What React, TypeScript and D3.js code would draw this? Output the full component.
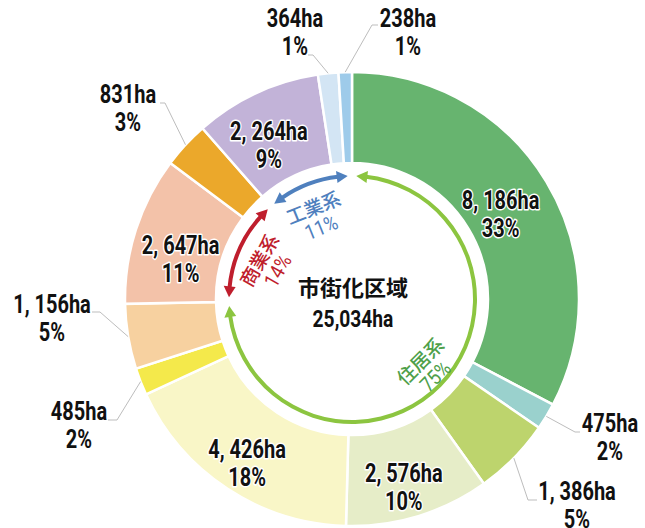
import React from 'react';
import * as d3 from 'd3';

// 市街化区域の用途地域別面積 (ha)
const areaHa = [8186, 475, 1386, 2576, 4426, 485, 1156, 2647, 831, 2264, 364, 238];
const sharePct = [33, 2, 5, 10, 18, 2, 5, 11, 3, 9, 1, 1];
const groupOfSlice = [0, 0, 0, 0, 0, 0, 0, 1, 1, 2, 2, 2];
const groupNames = ['住居系', '商業系', '工業系'];
const groupPct = [75, 14, 11];
const centerTitle = '市街化区域';
const totalHa = 25034;

const sliceColors = ['#67b46f', '#9ad1cd', '#bdd46d', '#e6edc8', '#f9f6c7', '#f4e94b',
  '#f7d1a0', '#f3c2a9', '#eba82b', '#c2b3d8', '#d3e5f4', '#9ecbea'];
const groupColors = ['#8cc540', '#bf1e2d', '#4f80be'];
const groupTextColors = ['#4ea04a', '#bf1e2d', '#4f80be'];

const W = 645, H = 528;
const cx = 352, cy = 299;
const outerR = 227, innerR = 136, arrowR = 123;
const numFont = 'Roboto, "Liberation Sans", sans-serif';
const cjkFont = '"Noto Sans CJK JP", "Noto Sans CJK SC", sans-serif';

// labels drawn inside the slice: [radius, angle shift in degrees]
const insideLayout: Record<number, [number, number]> = {
  0: [171, 1.5], 3: [195, 1.6], 4: [195, -0.8], 7: [176, -4.6], 9: [175, -3.4],
};
// labels outside: text centre x, first baseline, elbow point, leader end
const outsideLayout: Record<number, { x: number; y: number; elbow: [number, number]; end: [number, number] }> = {
  1: { x: 610, y: 432, elbow: [575, 432], end: [580, 432] },
  2: { x: 577, y: 500, elbow: [528, 500], end: [537, 500] },
  5: { x: 79, y: 420, elbow: [117, 420], end: [108, 420] },
  6: { x: 52, y: 313, elbow: [100, 312], end: [92, 312] },
  8: { x: 128, y: 103, elbow: [165, 103], end: [160, 103] },
  10: { x: 295, y: 27, elbow: [313, 55], end: [308, 55] },
  11: { x: 408, y: 27, elbow: [372, 25], end: [378, 25] },
};
// group label placement: [angle deg, radius, rotation deg]
const groupLabelLayout: [number, number, number][] = [
  [132.6, 102, -45], [292, 91, -60], [337, 89.6, -22],
];

const fmtHa = (v: number) => d3.format(',')(v).replace(/,/g, ', ') + 'ha';
const rad = (deg: number) => (deg * Math.PI) / 180;
const polar = (a: number, r: number): [number, number] => [cx + r * Math.sin(a), cy - r * Math.cos(a)];

const NumText = ({ x, y, children, halo = false, size = 25 }: any) => (
  <text
    transform={`translate(${x},${y}) scale(0.8,1)`}
    textAnchor="middle"
    fontFamily={numFont}
    fontWeight={700}
    fontSize={size}
    fill="#111"
    stroke={halo ? '#fff' : 'none'}
    strokeWidth={halo ? 3 : 0}
    strokeLinejoin="round"
    style={{ paintOrder: 'stroke' }}
  >
    {children}
  </text>
);

const App = () => {
  const pie = d3.pie<number>().sort(null).value((d) => d);
  const slices = pie(areaHa);
  const arc = d3.arc<d3.PieArcDatum<number>>().innerRadius(innerR).outerRadius(outerR);

  // group angular ranges
  const groups = groupNames.map((_, g) => {
    const own = slices.filter((_, i) => groupOfSlice[i] === g);
    return {
      start: d3.min(own, (s) => s.startAngle) as number,
      end: d3.max(own, (s) => s.endAngle) as number,
    };
  });

  const gap = rad(2);
  const headLen = 11, headHalf = 6, lineW = 4;
  const arrowArc = d3.arc<any>().innerRadius(arrowR - lineW / 2).outerRadius(arrowR + lineW / 2);

  const head = (tipA: number, dir: number) => {
    // dir = +1 : head points clockwise, -1 : counter-clockwise
    const tip = polar(tipA, arrowR);
    const baseA = tipA - dir * (headLen / arrowR);
    const o = polar(baseA, arrowR + headHalf);
    const i = polar(baseA, arrowR - headHalf);
    return `M${tip[0]},${tip[1]}L${o[0]},${o[1]}L${i[0]},${i[1]}Z`;
  };

  return (
    <svg width={W} height={H} style={{ position: 'absolute', left: 0, top: 0, background: '#fff' }}>
      <g transform={`translate(${cx},${cy})`}>
        {slices.map((s, i) => (
          <path key={i} d={arc(s) as string} fill={sliceColors[i]} stroke="#fff" strokeWidth={2.5} />
        ))}
        {groups.map((g, k) => {
          const a0 = g.start + gap, a1 = g.end - gap;
          const d = arrowArc({ startAngle: a0 + headLen / arrowR - 0.01, endAngle: a1 - headLen / arrowR + 0.01 });
          return <path key={k} d={d as string} fill={groupColors[k]} />;
        })}
      </g>
      {groups.map((g, k) => (
        <g key={'h' + k} fill={groupColors[k]}>
          <path d={head(g.start + gap, -1)} />
          <path d={head(g.end - gap, 1)} />
        </g>
      ))}

      {/* leader lines */}
      {slices.map((s, i) => {
        const lay = outsideLayout[i];
        if (!lay) return null;
        const start = polar((s.startAngle + s.endAngle) / 2, outerR);
        return (
          <polyline
            key={'l' + i}
            points={`${start[0]},${start[1]} ${lay.elbow[0]},${lay.elbow[1]} ${lay.end[0]},${lay.end[1]}`}
            fill="none"
            stroke="#bdbdbd"
            strokeWidth={1}
          />
        );
      })}

      {/* slice labels */}
      {slices.map((s, i) => {
        const inside = insideLayout[i];
        if (inside) {
          const a = (s.startAngle + s.endAngle) / 2 + rad(inside[1]);
          const [x, y] = polar(a, inside[0]);
          return (
            <g key={'t' + i}>
              <NumText x={x} y={y - 5} halo>{fmtHa(areaHa[i])}</NumText>
              <NumText x={x} y={y + 23} halo>{sharePct[i] + '%'}</NumText>
            </g>
          );
        }
        const lay = outsideLayout[i];
        return (
          <g key={'t' + i}>
            <NumText x={lay.x} y={lay.y}>{fmtHa(areaHa[i])}</NumText>
            <NumText x={lay.x} y={lay.y + 28}>{sharePct[i] + '%'}</NumText>
          </g>
        );
      })}

      {/* group labels */}
      {groupNames.map((name, k) => {
        const [aDeg, r, rot] = groupLabelLayout[k];
        const [x, y] = polar(rad(aDeg), r);
        return (
          <g key={'g' + k} transform={`translate(${x},${y}) rotate(${rot})`} fill={groupTextColors[k]}>
            <text y={-11} textAnchor="middle" dominantBaseline="central" fontFamily={cjkFont} fontSize={19} fontWeight={500}>
              {name}
            </text>
            <text
              transform="translate(0,12) scale(0.86,1)"
              textAnchor="middle"
              dominantBaseline="central"
              fontFamily={numFont}
              fontSize={21}
            >
              {groupPct[k] + '%'}
            </text>
          </g>
        );
      })}

      {/* centre */}
      <text x={cx + 1} y={296} textAnchor="middle" fontFamily={cjkFont} fontWeight={700} fontSize={22} fill="#111">
        {centerTitle}
      </text>
      <NumText x={cx + 1} y={327} size={24}>{d3.format(',')(totalHa) + 'ha'}</NumText>
    </svg>
  );
};

export default App;
